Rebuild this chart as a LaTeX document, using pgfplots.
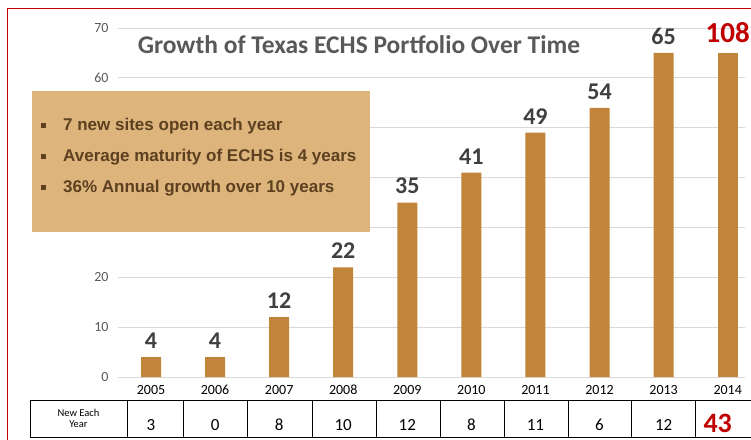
\documentclass[border=0pt]{standalone}
\usepackage{fontspec}
\setmainfont{Carlito}
\newfontfamily\arialf{Liberation Sans}
\usepackage{pgfplots}
\pgfplotsset{compat=1.18}
\definecolor{barc}{HTML}{C0843A}
\definecolor{boxc}{HTML}{DDB57C}
\definecolor{boxt}{HTML}{5C4020}
\definecolor{redc}{HTML}{C00000}
\definecolor{labc}{HTML}{404040}
\definecolor{tickc}{HTML}{595959}
\begin{document}
\begin{tikzpicture}[x=1pt,y=1pt]
\path[use as bounding box] (0,0) rectangle (751,439);
\begin{axis}[at={(118pt,62pt)}, anchor=south west, scale only axis,
  width=627pt, height=349pt,
  xmin=-0.515, xmax=9.27, ymin=0, ymax=70, clip=false,
  axis line style={draw=none}, major tick length=0pt,
  ytick={0,10,...,70}, yticklabels={0,10,20,,,,60,70},
  ymajorgrids, grid style={draw=black!15, line width=0.8pt},
  xtick={0,...,9},
  xticklabels={2005,2006,2007,2008,2009,2010,2011,2012,2013,2014},
  xticklabel style={font=\fontsize{14}{16}\selectfont, text=black, text height=9pt, text depth=0pt, yshift=-5pt},
  yticklabel style={font=\fontsize{14}{16}\selectfont, text=tickc, xshift=-6pt},
  /pgf/number format/assume math mode=true,
  ]
\addplot[ybar, bar width=20pt, bar shift=0pt, fill=barc, draw=none,
  nodes near coords, point meta=explicit symbolic,
  every node near coord/.append style={font=\fontsize{24}{28}\bfseries, text=labc, yshift=5pt}]
  coordinates {(0,4)[4] (1,4)[4] (2,12)[12] (3,22)[22] (4,35)[35] (5,41)[41] (6,49)[49] (7,54)[54] (8,65)[65]};
\addplot[ybar, bar width=20pt, bar shift=0pt, fill=barc, draw=none,
  nodes near coords, point meta=explicit symbolic,
  every node near coord/.append style={font=\fontsize{29}{32}\bfseries, text=redc, yshift=7pt}]
  coordinates {(9,65)[108]};
% table values
\addplot[only marks, mark=none, nodes near coords, point meta=explicit symbolic,
  every node near coord/.append style={anchor=center, font=\fontsize{17}{20}\selectfont, text=black, text height=11pt, text depth=0pt}]
  coordinates {(0,-9.63)[3] (1,-9.63)[0] (2,-9.63)[8] (3,-9.63)[10] (4,-9.63)[12] (5,-9.63)[8] (6,-9.63)[11] (7,-9.63)[6] (8,-9.63)[12]};
\addplot[only marks, mark=none, nodes near coords, point meta=explicit symbolic,
  every node near coord/.append style={anchor=center, font=\fontsize{28}{30}\bfseries, text=redc, xshift=-10pt, yshift=2pt}]
  coordinates {(9,-9.63)[43]};
\end{axis}
% title
\node[font=\fontsize{25.5}{30}\bfseries, text=tickc] at (359,394) {Growth of Texas ECHS Portfolio Over Time};
% text box
\fill[boxc] (32,348) rectangle (370,207);
\foreach \yy/\tt in {313/{7 new sites open each year}, 282/{Average maturity of ECHS is 4 years}, 251/{36\% Annual growth over 10 years}}{
  \fill[boxt] (41,\yy-2.5) rectangle (46,\yy+2.5);
  \node[anchor=west, inner sep=0pt, font=\arialf\bfseries\fontsize{17}{19}\selectfont, text=boxt] at (63,\yy) {\tt};
}
% table grid
\draw[black, line width=0.8pt] (30,39) -- (751,39);
\draw[black, line width=0.8pt] (30,2) -- (751,2);
\foreach \xx in {30,127,183,247,312,376,440,504,568,631,695}{
  \draw[black, line width=0.8pt] (\xx,39) -- (\xx,2);
}
\node[align=center, font=\fontsize{10.5}{11.5}\selectfont, text=black] at (78.5,20.5) {New Each\\Year};
% red frame
\draw[redc, line width=0.8pt] (7,-5) -- (7,431) -- (760,431);
\end{tikzpicture}
\end{document}
